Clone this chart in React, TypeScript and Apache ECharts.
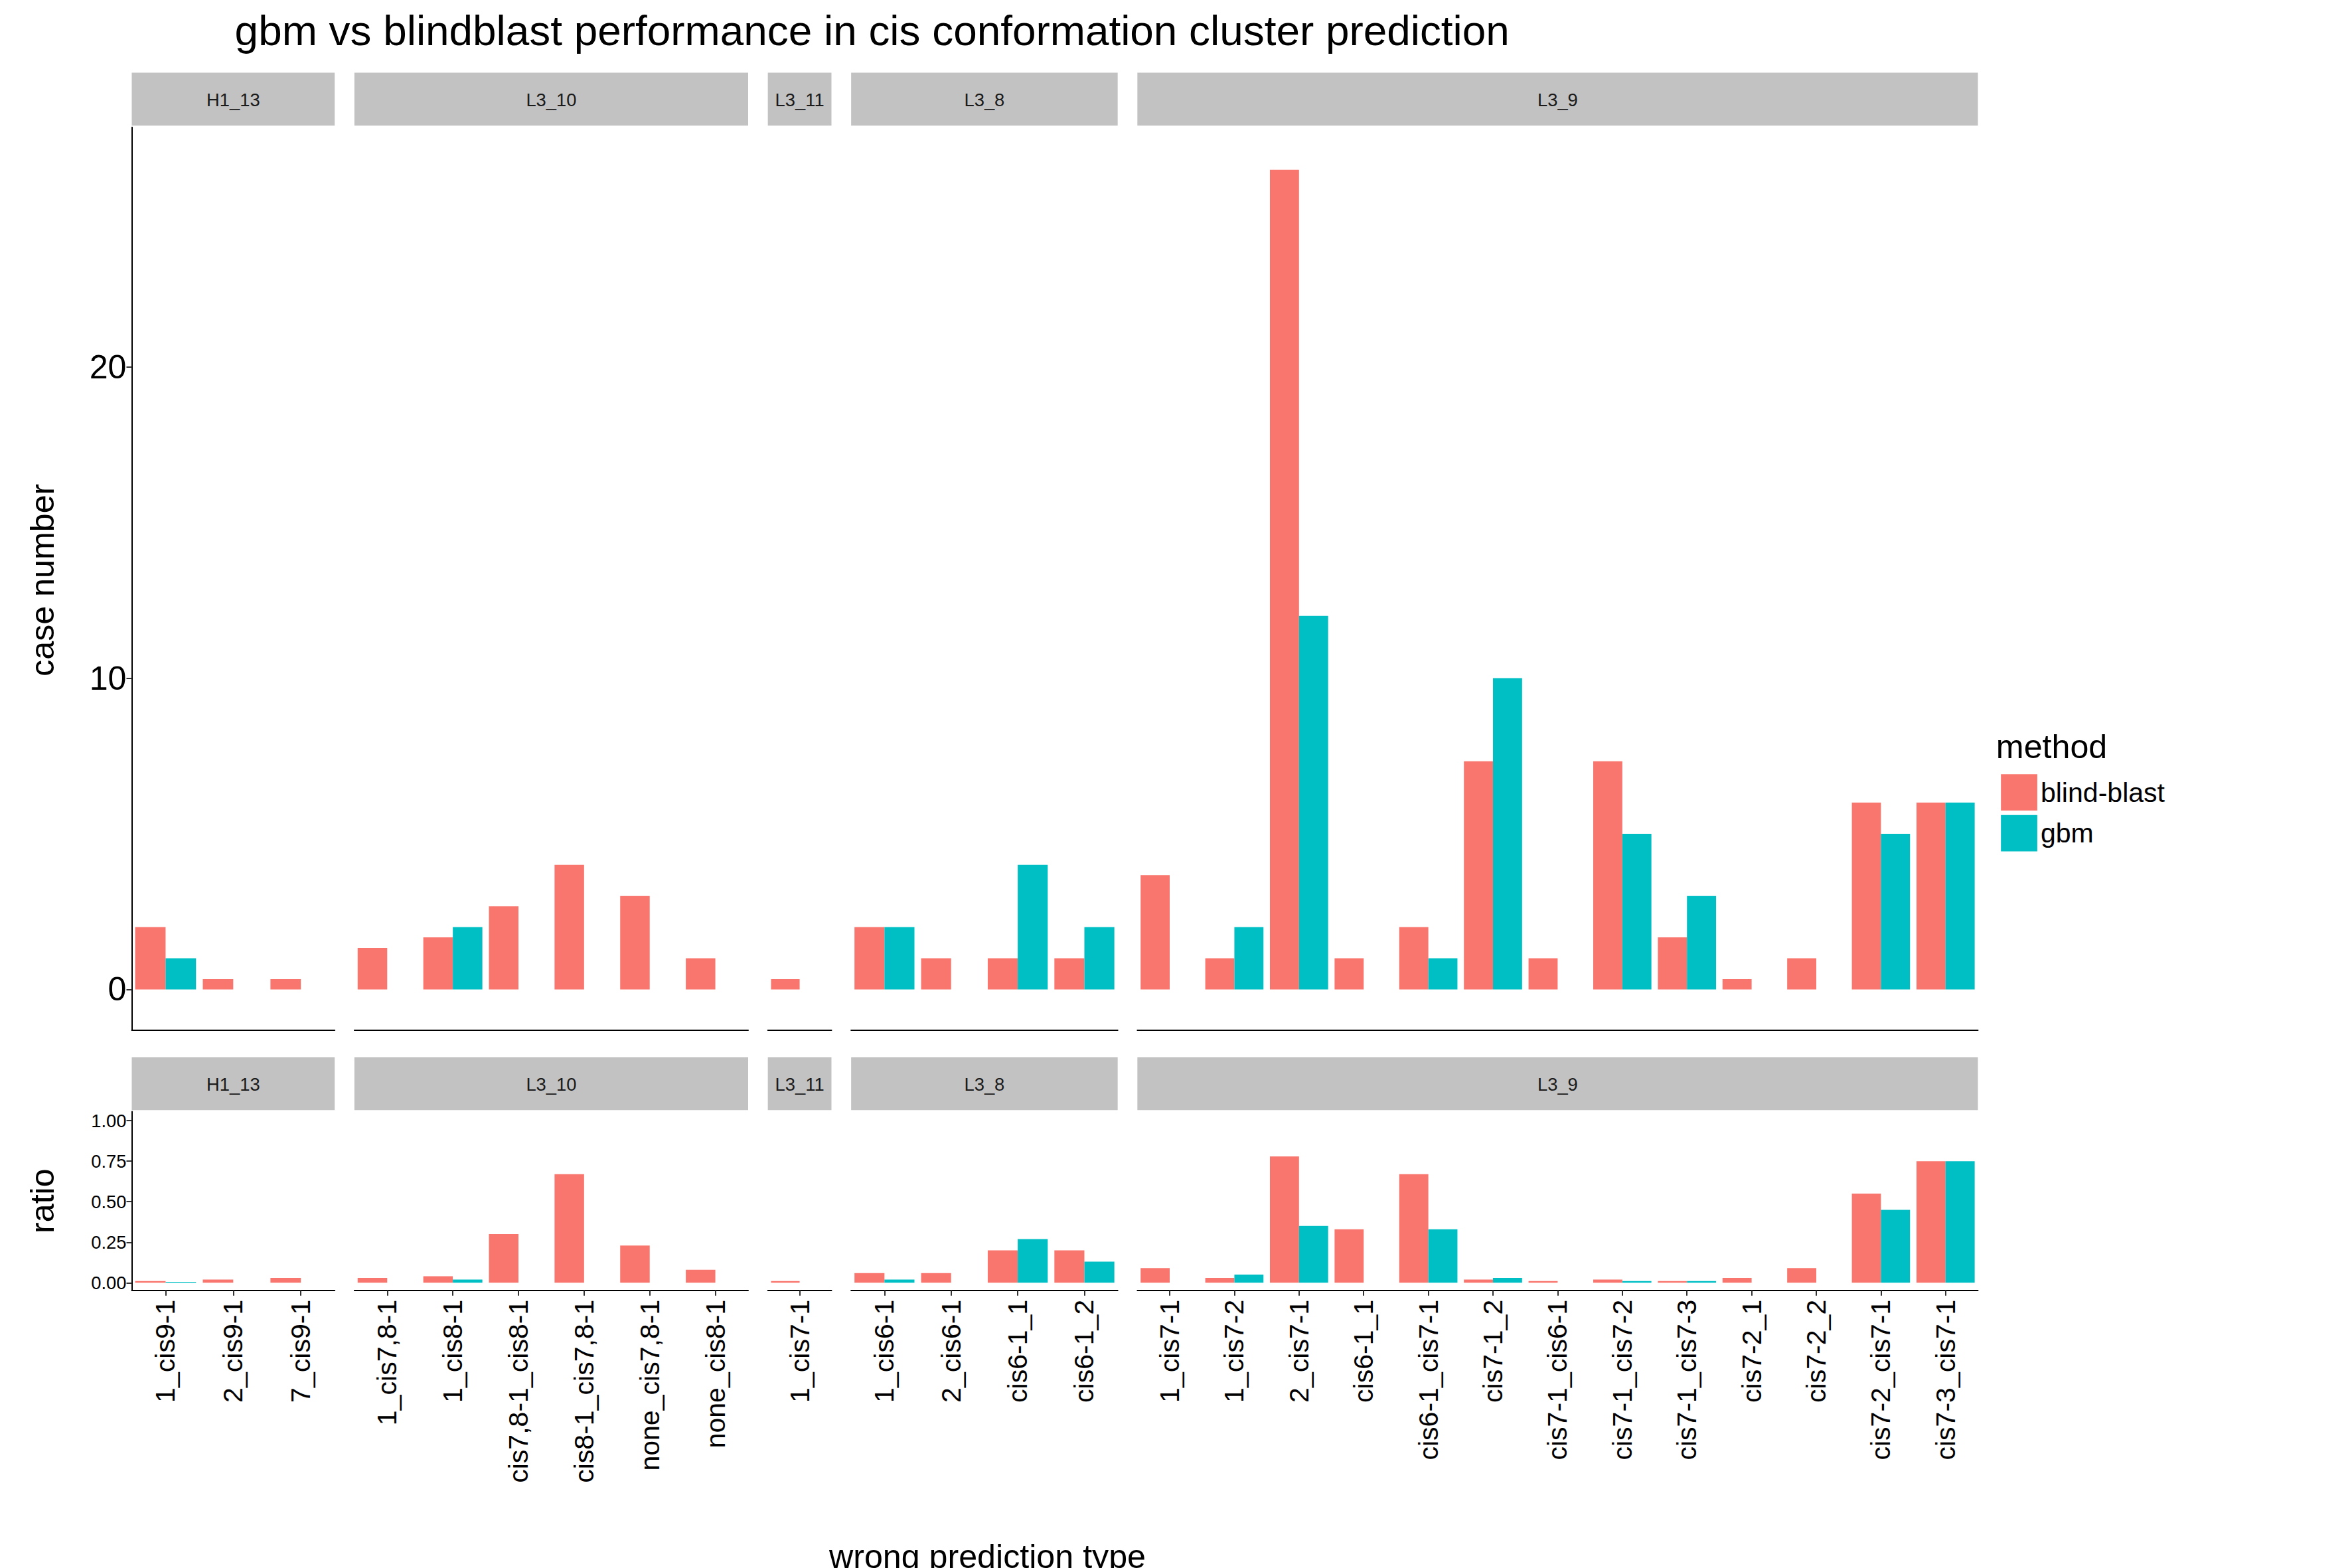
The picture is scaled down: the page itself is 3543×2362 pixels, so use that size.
import React, { useEffect, useRef } from "react";
import * as echarts from "echarts";

const facets = ["H1_13", "L3_10", "L3_11", "L3_8", "L3_9"];
const categories = [
  ["1_cis9-1", "2_cis9-1", "7_cis9-1"],
  ["1_cis7,8-1", "1_cis8-1", "cis7,8-1_cis8-1", "cis8-1_cis7,8-1", "none_cis7,8-1", "none_cis8-1"],
  ["1_cis7-1"],
  ["1_cis6-1", "2_cis6-1", "cis6-1_1", "cis6-1_2"],
  ["1_cis7-1", "1_cis7-2", "2_cis7-1", "cis6-1_1", "cis6-1_cis7-1", "cis7-1_2", "cis7-1_cis6-1",
   "cis7-1_cis7-2", "cis7-1_cis7-3", "cis7-2_1", "cis7-2_2", "cis7-2_cis7-1", "cis7-3_cis7-1"],
];
const blindCount = [
  [2, 0.33, 0.33],
  [1.33, 1.67, 2.67, 4, 3, 1],
  [0.33],
  [2, 1, 1, 1],
  [3.67, 1, 26.33, 1, 2, 7.33, 1, 7.33, 1.67, 0.33, 1, 6, 6],
];
const gbmCount = [
  [1, 0, 0],
  [0, 2, 0, 0, 0, 0],
  [0],
  [2, 0, 4, 2],
  [0, 2, 12, 0, 1, 10, 0, 5, 3, 0, 0, 5, 6],
];
const blindRatio = [
  [0.01, 0.02, 0.03],
  [0.03, 0.04, 0.3, 0.67, 0.23, 0.08],
  [0.01],
  [0.06, 0.06, 0.2, 0.2],
  [0.09, 0.03, 0.78, 0.33, 0.67, 0.02, 0.01, 0.02, 0.01, 0.03, 0.09, 0.55, 0.75],
];
const gbmRatio = [
  [0.005, 0, 0],
  [0, 0.02, 0, 0, 0, 0],
  [0],
  [0.02, 0, 0.27, 0.13],
  [0, 0.05, 0.35, 0, 0.33, 0.03, 0, 0.01, 0.01, 0, 0, 0.45, 0.75],
];

const s = 3543 / 1553;
const font = "Liberation Sans";
const RED = "#F8766D";
const TEAL = "#00BFC4";
const panelX = [[87, 221], [234, 494], [507, 549], [562, 738], [751, 1306]];

export default function App() {
  const ref = useRef<HTMLDivElement>(null);
  useEffect(() => {
    document.body.style.margin = "0";
    const chart = echarts.init(ref.current!, null, { renderer: "svg" });
    const grids: any[] = [];
    const xAxes: any[] = [];
    const yAxes: any[] = [];
    const series: any[] = [];
    const graphic: any[] = [];
    const rows = [
      { top: 84, bottom: 680, strip: 48, min: -1.3, max: 27.7, ticks: [0, 10, 20], b: blindCount, g: gbmCount, fs: 22, fmt: (v: number) => String(v) },
      { top: 734, bottom: 852, strip: 698, min: -0.047, max: 1.056, ticks: [0, 0.25, 0.5, 0.75, 1], b: blindRatio, g: gbmRatio, fs: 12, fmt: (v: number) => v.toFixed(2) },
    ];
    rows.forEach((r, ri) => {
      facets.forEach((f, fi) => {
        const [x0, x1] = panelX[fi];
        const idx = grids.length;
        grids.push({ left: x0 * s, width: (x1 - x0) * s, top: r.top * s, height: (r.bottom - r.top) * s });
        xAxes.push({
          type: "category", gridIndex: idx, data: categories[fi],
          axisLine: { onZero: false, lineStyle: { color: "#000", width: 2 } },
          axisTick: { show: ri === 1, alignWithLabel: true, lineStyle: { color: "#333", width: 2 }, length: 8 },
          axisLabel: ri === 1 ? { rotate: 90, fontSize: 18 * s, color: "#000", fontFamily: font, margin: 14 } : { show: false },
        });
        yAxes.push({
          type: "value", gridIndex: idx, min: r.min, max: r.max, splitLine: { show: false },
          axisLine: { show: fi === 0, lineStyle: { color: "#000", width: 2 } },
          axisTick: { show: fi === 0, customValues: r.ticks, length: 8, lineStyle: { color: "#333", width: 2 } },
          axisLabel: { show: fi === 0, customValues: r.ticks, formatter: r.fmt, fontSize: r.fs * s, color: "#000", fontFamily: font },
        });
        series.push(
          { type: "bar", name: "blind-blast", xAxisIndex: idx, yAxisIndex: idx, data: r.b[fi], itemStyle: { color: RED }, barGap: "0%", barCategoryGap: "10%" },
          { type: "bar", name: "gbm", xAxisIndex: idx, yAxisIndex: idx, data: r.g[fi], itemStyle: { color: TEAL }, barGap: "0%", barCategoryGap: "10%" }
        );
        graphic.push({ type: "rect", shape: { x: x0 * s, y: r.strip * s, width: (x1 - x0) * s, height: (r.top - r.strip - 1) * s }, style: { fill: "#C2C2C2" } });
        graphic.push({ type: "text", x: ((x0 + x1) / 2) * s, y: ((r.strip + r.top) / 2) * s, style: { text: f, fontSize: 12 * s, fontFamily: font, fill: "#1a1a1a", align: "center", verticalAlign: "middle" } });
      });
    });
    graphic.push(
      { type: "text", x: 155 * s, y: 20 * s, style: { text: "gbm vs blindblast performance in cis conformation cluster prediction", fontSize: 28 * s, fontFamily: font, fill: "#000", verticalAlign: "middle" } },
      { type: "text", x: 28 * s, y: 383 * s, rotation: Math.PI / 2, style: { text: "case number", fontSize: 22 * s, fontFamily: font, fill: "#000", align: "center", verticalAlign: "middle" } },
      { type: "text", x: 28 * s, y: 793 * s, rotation: Math.PI / 2, style: { text: "ratio", fontSize: 22 * s, fontFamily: font, fill: "#000", align: "center", verticalAlign: "middle" } },
      { type: "text", x: 652 * s, y: 1028 * s, style: { text: "wrong prediction type", fontSize: 22 * s, fontFamily: font, fill: "#000", align: "center", verticalAlign: "middle" } },
      { type: "text", x: 1318 * s, y: 493 * s, style: { text: "method", fontSize: 22 * s, fontFamily: font, fill: "#000", verticalAlign: "middle" } }
    );
    chart.setOption({
      animation: false,
      backgroundColor: "#fff",
      grid: grids, xAxis: xAxes, yAxis: yAxes, series, graphic,
      legend: {
        data: ["blind-blast", "gbm"], orient: "vertical", left: 1319 * s, top: 509 * s,
        itemWidth: 24 * s, itemHeight: 24 * s, itemGap: 3 * s, icon: "rect",
        textStyle: { fontSize: 18 * s, fontFamily: font, color: "#000" },
      },
    });
    return () => chart.dispose();
  }, []);
  return <div ref={ref} style={{ width: 3543, height: 2362 }} />;
}
